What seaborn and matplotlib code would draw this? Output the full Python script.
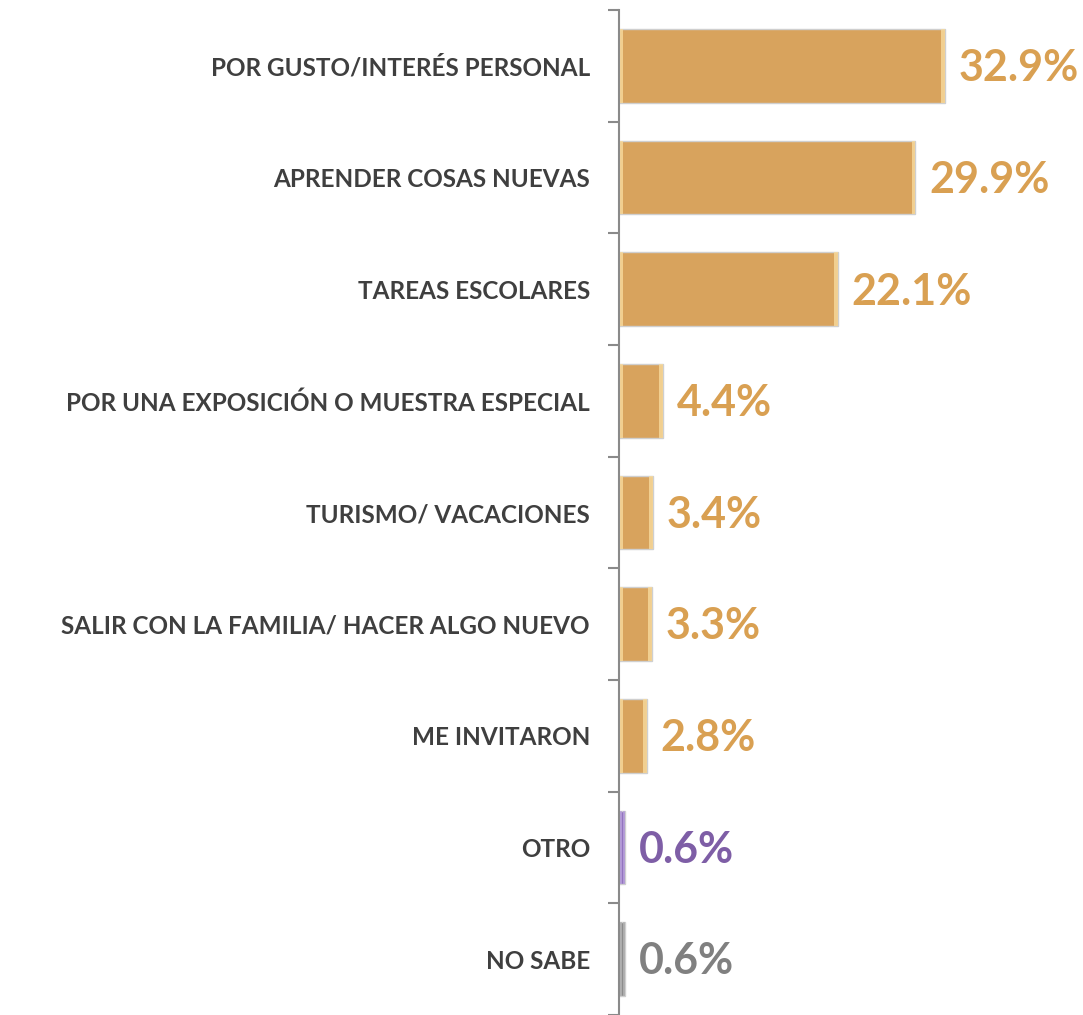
import matplotlib
matplotlib.use("Agg")
from matplotlib import pyplot as plt
import seaborn as sns
import pandas as pd

# Datos del gráfico (porcentajes).
categorias = [
    "POR GUSTO/INTERÉS PERSONAL",
    "APRENDER COSAS NUEVAS",
    "TAREAS ESCOLARES",
    "POR UNA EXPOSICIÓN O MUESTRA ESPECIAL",
    "TURISMO/ VACACIONES",
    "SALIR CON LA FAMILIA/ HACER ALGO NUEVO",
    "ME INVITARON",
    "OTRO",
    "NO SABE",
]
valores = [32.9, 29.9, 22.1, 4.4, 3.4, 3.3, 2.8, 0.6, 0.6]
etiquetas = ["32.9%", "29.9%", "22.1%", "4.4%", "3.4%", "3.3%", "2.8%", "0.6%", "0.6%"]

GOLD = "#D8A35D"
colores_barra = [GOLD] * 7 + ["#9274BF", "#8C8C8C"]
colores_brillo = ["#F8DB9E"] * 7 + ["#B9A2DB", "#B5B5B5"]
colores_texto = ["#D9A052"] * 7 + ["#7E5EA6", "#808080"]

sns.set_style("white")
plt.rcParams["font.family"] = ["Lato", "DejaVu Sans"]

df = pd.DataFrame({"cat": categorias, "val": valores})

fig = plt.figure(figsize=(10.83, 10.15), dpi=100)

ax = fig.add_axes([0.5716, 0.0, 0.3658, 0.990])
sns.barplot(
    data=df, x="val", y="cat", hue="cat", palette=colores_barra,
    legend=False, width=0.66, edgecolor="#cfcfcf", linewidth=1.0,
    saturation=1, ax=ax,
)

# realce lateral tipo bisel
for p, c in zip(ax.patches, colores_brillo):
    h = p.get_height()
    y0 = p.get_y()
    w = p.get_width()
    hw = min(0.35, w * 0.25)
    for x0 in (p.get_x() + 0.1, p.get_x() + w - hw):
        ax.add_patch(plt.Rectangle((x0, y0), hw, h, color=c,
                                   alpha=0.8, lw=0, zorder=3))

ax.set_xlim(0, 40)
ax.set_ylim(8.47, -0.5)
ax.set_xlabel("")
ax.set_ylabel("")
ax.set_xticks([])

for i, (v, t) in enumerate(zip(valores, etiquetas)):
    ax.text(v + 1.4, i + 0.02, t, color=colores_texto[i], fontsize=31,
            fontweight="bold", va="center", ha="left", clip_on=False)

ax.set_yticks(range(len(categorias)))
ax.set_yticklabels(categorias, fontsize=17.5, fontweight="bold", color="#3f3f3f")
ax.tick_params(axis="y", which="major", left=False, length=0, pad=21)
ax.set_yticks([i - 0.5 for i in range(len(categorias) + 1)], minor=True)
ax.tick_params(axis="y", which="minor", left=True, length=8, width=1.5,
               color="#8a8a8a", direction="out")

for s in ["top", "right", "bottom"]:
    ax.spines[s].set_visible(False)
ax.spines["left"].set_color("#8a8a8a")
ax.spines["left"].set_linewidth(1.5)

fig.savefig("out.png", dpi=100)
